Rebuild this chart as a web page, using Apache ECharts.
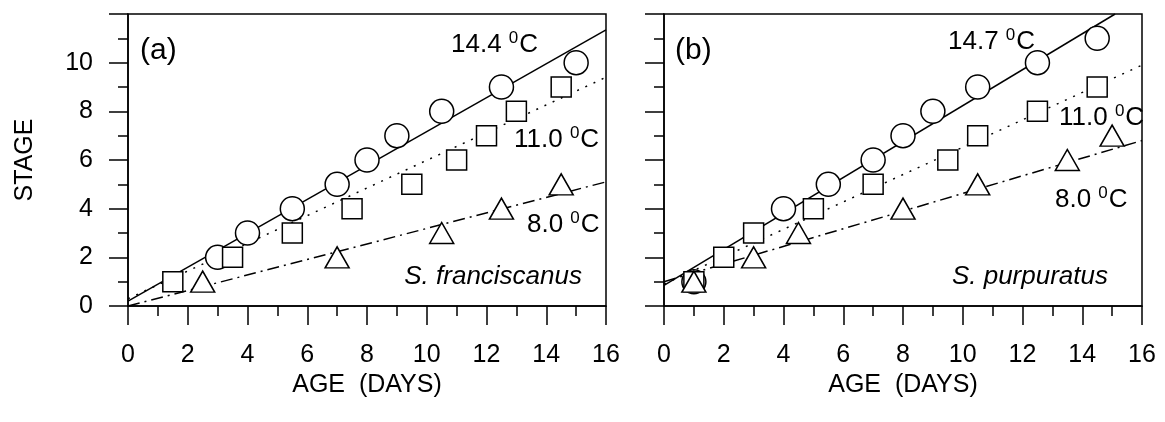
<!DOCTYPE html>
<html>
<head>
<meta charset="utf-8">
<script src="https://cdn.jsdelivr.net/npm/echarts@6/dist/echarts.min.js"></script>
<style>
    html, body { margin: 0; padding: 0; background: #fff; }
    #chart { width: 1165px; height: 422px; }
</style>
</head>
<body>
<div id="chart"></div>
<script>
    // panel (a) S. franciscanus
    var ageA_144 = [3, 4, 5.5, 7, 8, 9, 10.5, 12.5, 15];
    var stageA_144 = [2, 3, 4, 5, 6, 7, 8, 9, 10];
    var ageA_110 = [1.5, 3.5, 5.5, 7.5, 9.5, 11, 12, 13, 14.5];
    var stageA_110 = [1, 2, 3, 4, 5, 6, 7, 8, 9];
    var ageA_80 = [2.5, 7, 10.5, 12.5, 14.5];
    var stageA_80 = [1, 2, 3, 4, 5];
    // fitted lines, [x0, x1] and [y0, y1]
    var fitA_144 = [[0, 16], [0.2, 11.35]];
    var fitA_110 = [[0, 16], [0.3, 9.4]];
    var fitA_80 = [[0, 16], [0, 5.1]];

    // panel (b) S. purpuratus
    var ageB_147 = [1, 4, 5.5, 7, 8, 9, 10.5, 12.5, 14.5];
    var stageB_147 = [1, 4, 5, 6, 7, 8, 9, 10, 11];
    var ageB_110 = [1, 2, 3, 5, 7, 9.5, 10.5, 12.5, 14.5];
    var stageB_110 = [1, 2, 3, 4, 5, 6, 7, 8, 9];
    var ageB_80 = [1, 3, 4.5, 8, 10.5, 13.5, 15];
    var stageB_80 = [1, 2, 3, 4, 5, 6, 7];
    var fitB_147 = [[0, 15.1], [0.85, 12]];
    var fitB_110 = [[0, 16], [0.9, 9.9]];
    var fitB_80 = [[0, 16], [1.0, 6.8]];

    var xTicks = [0, 16, 2];
    var yTicks = [0, 12, 2];

    function pairs(xs, ys) {
        return xs.map(function (x, i) { return [x, ys[i]]; });
    }

    var font = 'Liberation Sans, Arial, sans-serif';

    function xAxisFor(idx) {
        return {
            type: 'value', gridIndex: idx,
            min: xTicks[0], max: xTicks[1], interval: xTicks[2],
            name: 'AGE  (DAYS)', nameLocation: 'middle', nameGap: 62,
            nameTextStyle: { color: '#000', fontSize: 25, fontFamily: font },
            axisLine: { onZero: false, lineStyle: { color: '#000', width: 1.5 } },
            axisTick: { length: 19, lineStyle: { color: '#000', width: 1.5 } },
            minorTick: { show: true, splitNumber: 2, length: 10, lineStyle: { color: '#000', width: 1.5 } },
            axisLabel: { color: '#000', fontSize: 25, fontFamily: font, margin: 37 },
            splitLine: { show: false }
        };
    }

    function yAxisFor(idx, withLabels) {
        return {
            type: 'value', gridIndex: idx,
            min: yTicks[0], max: yTicks[1], interval: yTicks[2],
            name: withLabels ? 'STAGE' : '', nameLocation: 'middle', nameGap: 90,
            nameTextStyle: { color: '#000', fontSize: 25, fontFamily: font },
            axisLine: { onZero: false, lineStyle: { color: '#000', width: 1.5 } },
            axisTick: { length: 19, lineStyle: { color: '#000', width: 1.5 } },
            minorTick: { show: true, splitNumber: 2, length: 10, lineStyle: { color: '#000', width: 1.5 } },
            axisLabel: {
                show: withLabels, color: '#000', fontSize: 25, fontFamily: font, margin: 35,
                formatter: function (v) { return v === 12 ? '' : v; }
            },
            splitLine: { show: false }
        };
    }

    function fitLine(idx, fit, dash) {
        return {
            type: 'line', xAxisIndex: idx, yAxisIndex: idx,
            data: pairs(fit[0], fit[1]),
            showSymbol: false, silent: true, z: 1,
            lineStyle: { color: '#000', width: 1.5, type: dash }
        };
    }

    function markers(idx, xs, ys, symbol, size) {
        return {
            type: 'scatter', xAxisIndex: idx, yAxisIndex: idx,
            data: pairs(xs, ys),
            symbol: symbol, symbolSize: size, z: 3,
            itemStyle: { color: '#fff', borderColor: '#000', borderWidth: 1.5, opacity: 1 }
        };
    }

    function tempLabel(x, y, t) {
        return {
            type: 'text', x: x, y: y,
            style: {
                text: '{n|' + t + ' }{s|0}{n|C}',
                verticalAlign: 'middle',
                rich: {
                    n: { fontSize: 26, fontFamily: font, fill: '#000', color: '#000' },
                    s: { fontSize: 17, fontFamily: font, fill: '#000', color: '#000', verticalAlign: 'top', padding: [0, 1, 14, 0] }
                }
            }
        };
    }

    function plainText(x, y, t, italic, align, size) {
        return {
            type: 'text', x: x, y: y,
            style: {
                text: t, fill: '#000', fontSize: size || 26, fontFamily: font,
                fontStyle: italic ? 'italic' : 'normal',
                align: align || 'left', verticalAlign: 'middle'
            }
        };
    }

    var myChart = echarts.init(document.getElementById('chart'), null, { renderer: 'canvas' });
    var option = {
        backgroundColor: '#fff',
        animation: false,
        grid: [
            { left: 128, top: 14, width: 478, height: 292, show: true, borderColor: '#000', borderWidth: 1.5 },
            { left: 664, top: 14, width: 478, height: 292, show: true, borderColor: '#000', borderWidth: 1.5 }
        ],
        xAxis: [xAxisFor(0), xAxisFor(1)],
        yAxis: [yAxisFor(0, true), yAxisFor(1, false)],
        series: [
            fitLine(0, fitA_144, 'solid'),
            fitLine(0, fitA_110, [2, 7]),
            fitLine(0, fitA_80, [12, 5, 2, 5]),
            markers(0, ageA_144, stageA_144, 'circle', 24),
            markers(0, ageA_110, stageA_110, 'rect', 20),
            markers(0, ageA_80, stageA_80, 'triangle', [24, 21]),
            fitLine(1, fitB_147, 'solid'),
            fitLine(1, fitB_110, [2, 7]),
            fitLine(1, fitB_80, [12, 5, 2, 5]),
            markers(1, ageB_147, stageB_147, 'circle', 24),
            markers(1, ageB_110, stageB_110, 'rect', 20),
            markers(1, ageB_80, stageB_80, 'triangle', [24, 21])
        ],
        graphic: [
            plainText(140, 51, '(a)', false, 'left', 30),
            plainText(675, 51, '(b)', false, 'left', 30),
            tempLabel(451, 45, '14.4'),
            tempLabel(514, 140, '11.0'),
            tempLabel(527, 225, '8.0'),
            tempLabel(948, 42, '14.7'),
            tempLabel(1059, 118, '11.0'),
            tempLabel(1055, 200, '8.0'),
            plainText(582, 277, 'S. franciscanus', true, 'right'),
            plainText(1108, 277, 'S. purpuratus', true, 'right')
        ]
    };
    myChart.setOption(option);
</script>
</body>
</html>
